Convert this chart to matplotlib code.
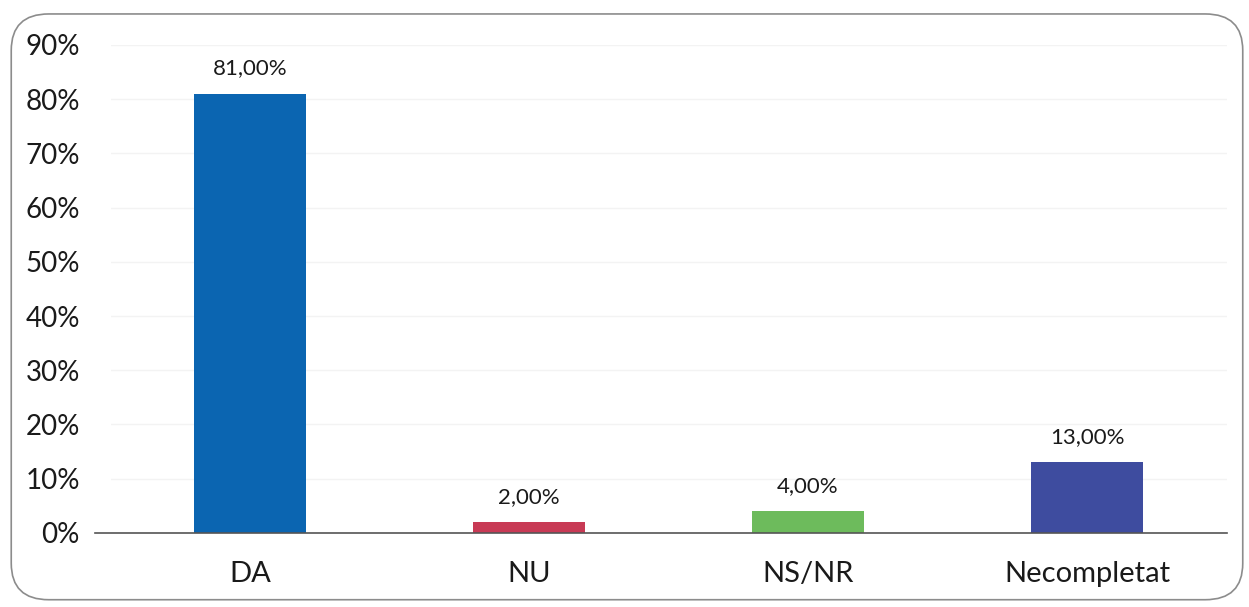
import matplotlib
matplotlib.use("Agg")
import matplotlib.pyplot as plt
from matplotlib.patches import FancyBboxPatch

categories = ["DA", "NU", "NS/NR", "Necompletat"]
values = [81.0, 2.0, 4.0, 13.0]
labels = ["81,00%", "2,00%", "4,00%", "13,00%"]
colors = ["#0b65b1", "#c83a55", "#6dbb5c", "#3e4c9f"]
yticks = [0, 10, 20, 30, 40, 50, 60, 70, 80, 90]

plt.rcParams["font.family"] = ["Lato", "DejaVu Sans"]

fig = plt.figure(figsize=(12.49, 6.07), dpi=100)
ax = fig.add_axes([0.0885, 0.122, 0.8935, 0.804])

# rounded frame around the chart area
frame = FancyBboxPatch((0.009, 0.012), 0.986, 0.965,
                       boxstyle="round,pad=0,rounding_size=0.03",
                       transform=fig.transFigure, facecolor="none",
                       edgecolor="#8c8c8c", linewidth=1.2, mutation_aspect=2.0)
fig.patches.append(frame)

x = range(len(categories))
bars = ax.bar(x, values, width=0.4, color=colors, zorder=3)

for b, lab in zip(bars, labels):
    ax.annotate(lab, (b.get_x() + b.get_width() / 2, b.get_height()),
                xytext=(0, 11), textcoords="offset points",
                ha="center", va="bottom", fontsize=16, color="#1a1a1a")

ax.set_xlim(-0.5, 3.5)
ax.set_ylim(0, 90)
ax.set_yticks(yticks)
ax.set_yticklabels([f"{t}%" for t in yticks])
ax.set_xticks(list(x))
ax.set_xticklabels(categories)
ax.tick_params(axis="y", length=0, labelsize=20, pad=22, labelcolor="#1a1a1a")
ax.tick_params(axis="x", length=0, labelsize=21, pad=20, labelcolor="#1a1a1a")

ax.grid(axis="y", color="#f3f3f3", linewidth=1, zorder=0)
for side in ["top", "right", "left", "bottom"]:
    ax.spines[side].set_visible(False)
# baseline runs a little past the left edge of the plot area
ax.axhline(0, xmin=-0.014, xmax=1.0, color="#555555", linewidth=1.2,
           clip_on=False, zorder=4)

fig.savefig("out.png", dpi=100)
